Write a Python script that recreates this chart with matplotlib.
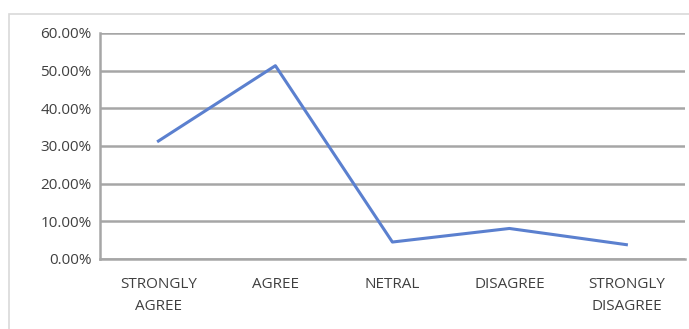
import matplotlib.pyplot as plt
from matplotlib.patches import Rectangle
from matplotlib.ticker import PercentFormatter

categorias = ["STRONGLY\nAGREE", "AGREE", "NETRAL", "DISAGREE", "STRONGLY\nDISAGREE"]
valores = [31.3, 51.3, 4.5, 8.1, 3.8]
ticks_y = [0, 10, 20, 30, 40, 50, 60]

plt.rcParams['font.family'] = ['Open Sans', 'DejaVu Sans']

fig = plt.figure(figsize=(6.89, 3.29), dpi=100)
ax = fig.add_axes([0.145, 0.2128, 0.849, 0.6872])

# moldura do gráfico (cortada na direita e embaixo)
fig.patches.append(Rectangle((9 / 689, -0.1), 1.2, 1 - 14 / 329 + 0.1,
                             transform=fig.transFigure, fill=False,
                             edgecolor="#d9d9d9", linewidth=1.2))

ax.plot(range(len(valores)), valores, color="#5b80cf", linewidth=2.2)

ax.set_xlim(-0.5, len(categorias) - 0.5)
ax.set_ylim(0, 60)
ax.set_yticks(ticks_y)
ax.yaxis.set_major_formatter(PercentFormatter(decimals=2))
ax.set_xticks(range(len(categorias)))
ax.set_xticklabels(categorias, linespacing=1.6)

ax.grid(axis="y", color="#a6a6a6", linewidth=1.8)
ax.set_axisbelow(True)
for lado in ["top", "right"]:
    ax.spines[lado].set_visible(False)
ax.spines["left"].set_color("#a6a6a6")
ax.spines["left"].set_linewidth(1.8)
ax.spines["bottom"].set_color("#a6a6a6")
ax.spines["bottom"].set_linewidth(1.8)
ax.tick_params(length=0, labelsize=11, colors="#404040", pad=6)
ax.tick_params(axis="x", pad=13)

fig.savefig("out.png", dpi=100)
